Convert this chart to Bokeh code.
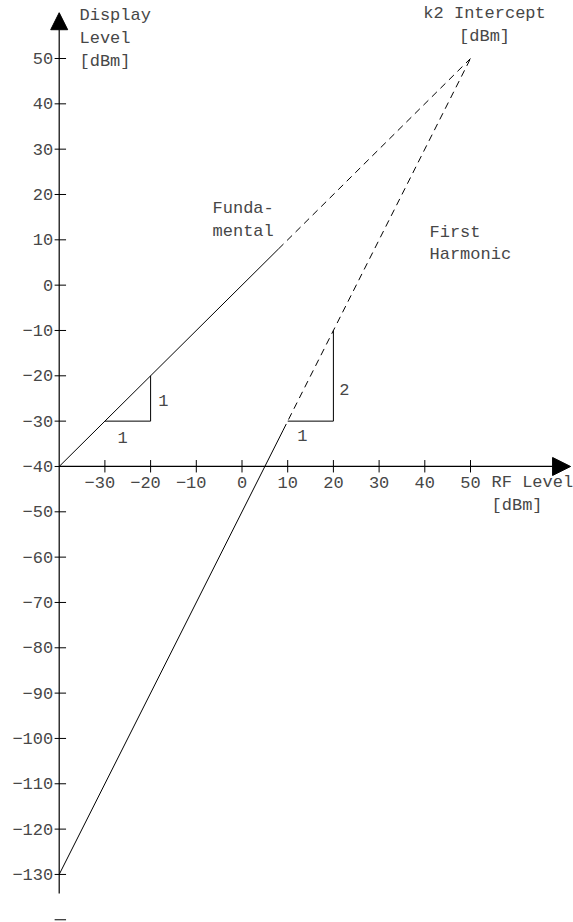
from bokeh.plotting import figure
from bokeh.models import Range1d, Arrow, NormalHead, ColumnDataSource
from bokeh.core.properties import value
from bokeh.embed import file_html
from bokeh.resources import INLINE

# ---- data ----
x_ticks = [-30, -20, -10, 0, 10, 20, 30, 40, 50]
x_tick_labels = ["−30", "−20", "−10", "0", "10", "20", "30", "40", "50"]
y_ticks = [50, 40, 30, 20, 10, 0, -10, -20, -30, -40, -50, -60, -70, -80, -90,
           -100, -110, -120, -130]
y_tick_labels = ["50", "40", "30", "20", "10", "0", "−10", "−20", "−30", "−40",
                 "−50", "−60", "−70", "−80", "−90", "−100", "−110", "−120", "−130"]
y_extra_ticks = [-140]

fund_solid_x = [-40, 8]
fund_solid_y = [-40, 8]
fund_dash_x = [8, 50]
fund_dash_y = [8, 50]
harm_solid_x = [-40, 9]
harm_solid_y = [-130, -32]
harm_dash_x = [9, 50]
harm_dash_y = [-32, 50]

fund_tri_x = [-30, -20, -20]
fund_tri_y = [-30, -30, -20]
harm_tri_x = [10, 20, 20]
harm_tri_y = [-30, -30, -10]

axis_origin = -40

# ---- figure ----
FONT = "Liberation Mono"
FS = "17px"
CHAR_W = 10.2
TXT = "#474747"

W, H = 573, 922
SX, SY = 4.57, 4.533          # px per data unit
X0PX, Y0PX = 58.7, 58.0       # pixel of x=-40 and y=50
p = figure(width=W, height=H, output_backend="svg", toolbar_location=None,
           x_range=Range1d(-40 - X0PX / SX, -40 + (W - X0PX) / SX),
           y_range=Range1d(50 - (H - Y0PX) / SY, 50 + Y0PX / SY),
           x_axis_type=None, y_axis_type=None, min_border=0,
           outline_line_color=None, background_fill_color="white",
           border_fill_color="white")
p.grid.visible = False

# axes with arrow heads
p.add_layout(Arrow(end=NormalHead(size=17, fill_color="black", line_color="black"),
                   x_start=axis_origin, y_start=-134.2, x_end=axis_origin, y_end=60.1,
                   line_color="black", line_width=1.2))
p.add_layout(Arrow(end=NormalHead(size=18, fill_color="black", line_color="black"),
                   x_start=axis_origin, y_start=axis_origin, x_end=71.9, y_end=axis_origin,
                   line_color="black", line_width=1.2))

# ticks
all_y = y_ticks + y_extra_ticks
p.segment(x0=[axis_origin - 1.0] * len(all_y), x1=[axis_origin + 1.5] * len(all_y),
          y0=all_y, y1=all_y, line_color="black", line_width=1)
p.segment(x0=x_ticks, x1=x_ticks, y0=[axis_origin - 1.32] * len(x_ticks),
          y1=[axis_origin + 1.42] * len(x_ticks), line_color="black", line_width=1)

# tick labels
p.text(x=[axis_origin] * len(y_ticks), y=y_ticks, text=y_tick_labels,
       text_font=value(FONT), text_font_size=value(FS), text_color=TXT,
       text_align="right", text_baseline="middle", x_offset=-6)
xsrc = ColumnDataSource(dict(
    x=x_ticks, y=[axis_origin] * len(x_ticks), t=x_tick_labels,
    off=[len(l.lstrip("−")) * CHAR_W / 2 for l in x_tick_labels]))
p.text(x="x", y="y", text="t", source=xsrc, x_offset="off", y_offset=16,
       text_font=value(FONT), text_font_size=value(FS), text_color=TXT,
       text_align="right", text_baseline="middle")

# curves
p.line(fund_solid_x, fund_solid_y, line_color="black", line_width=1)
p.line(fund_dash_x, fund_dash_y, line_color="black", line_width=1, line_dash="7 5")
p.line(harm_solid_x, harm_solid_y, line_color="black", line_width=1)
p.line(harm_dash_x, harm_dash_y, line_color="black", line_width=1, line_dash="7 5")
p.line(fund_tri_x, fund_tri_y, line_color="black", line_width=1)
p.line(harm_tri_x, harm_tri_y, line_color="black", line_width=1)

# slope labels
p.text(x=[-17.2, -26.1, 22.4, 13.2], y=[-25.4, -33.6, -23.0, -33.2],
       text=["1", "1", "2", "1"], text_font=value(FONT), text_font_size=value(FS),
       text_color=TXT, text_align="center", text_baseline="middle")

# annotation texts
p.text(x=[-35.56, -6.45, 41.03, 54.6], y=[61.5, 19.0, 13.8, -41.4],
       text=["Display\nLevel\n[dBm]", "Funda-\nmental", "First\nHarmonic", "RF Level\n[dBm]"],
       text_font=value(FONT), text_font_size=value(FS), text_color=TXT,
       text_align="left", text_baseline="top")
p.text(x=[53.07], y=[62.0], text=["k2 Intercept\n[dBm]"],
       text_font=value(FONT), text_font_size=value(FS), text_color=TXT,
       text_align="center", text_baseline="top")

open("out.html", "w").write(file_html(p, INLINE))
